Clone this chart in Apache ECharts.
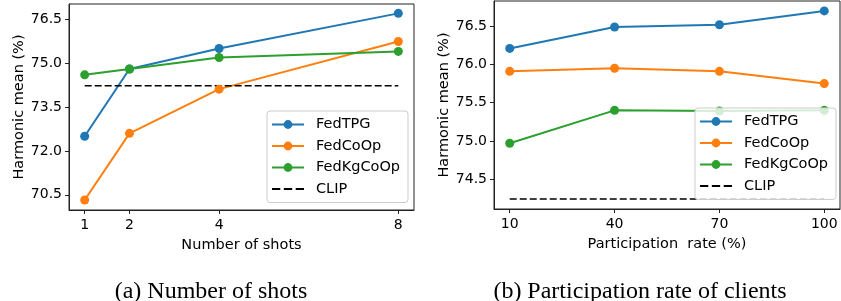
<!DOCTYPE html>
<html>
<head>
<meta charset="utf-8">
<script src="https://cdn.jsdelivr.net/npm/echarts@6/dist/echarts.min.js"></script>
<style>
  html, body { margin: 0; padding: 0; background: #fff; }
  #chart { width: 841px; height: 301px; }
</style>
</head>
<body>
<div id="chart"></div>
<script>
// (a) number of shots
var shots = [1, 2, 4, 8]
var shotsTPG = [72.5, 74.8, 75.5, 76.7]
var shotsCoOp = [70.32, 72.6, 74.11, 75.74]
var shotsKgCoOp = [74.6, 74.8, 75.19, 75.4]
var shotsClip = 74.23
var shotsYTicks = [70.5, 72.0, 73.5, 75.0, 76.5]

// (b) participation rate of clients
var rates = [10, 40, 70, 100]
var ratesTPG = [76.21, 76.49, 76.52, 76.7]
var ratesCoOp = [75.91, 75.95, 75.91, 75.75]
var ratesKgCoOp = [74.97, 75.4, 75.39, 75.4]
var ratesClip = 74.24
var ratesYTicks = [74.5, 75.0, 75.5, 76.0, 76.5]

var names = ['FedTPG', 'FedCoOp', 'FedKgCoOp', 'CLIP']
var colors = ['#1f77b4', '#ff7f0e', '#2ca02c', '#000000']

var font = 'DejaVu Sans'
var tickSize = 14
var textSize = 14.5

function pairs(xs, ys) {
  return xs.map(function (x, i) { return [x, ys[i]] })
}

function xAxisFor(idx, ticks, min, max, title) {
  return {
    type: 'value',
    gridIndex: idx,
    min: min,
    max: max,
    name: title,
    nameLocation: 'middle',
    nameGap: 28,
    nameTextStyle: { fontFamily: font, fontSize: textSize, color: '#000', verticalAlign: 'top' },
    splitLine: { show: false },
    axisLine: { show: true, lineStyle: { color: '#222', width: 1 } },
    axisTick: { show: true, length: 4, customValues: ticks, lineStyle: { color: '#222' } },
    axisLabel: { customValues: ticks, margin: 8, fontFamily: font, fontSize: tickSize, color: '#000' }
  }
}

function yAxisFor(idx, ticks, min, max, gap) {
  return {
    type: 'value',
    gridIndex: idx,
    min: min,
    max: max,
    name: 'Harmonic mean (%)',
    nameLocation: 'middle',
    nameGap: gap,
    nameTextStyle: { fontFamily: font, fontSize: textSize, color: '#000' },
    splitLine: { show: false },
    axisLine: { show: true, lineStyle: { color: '#222', width: 1 } },
    axisTick: { show: true, length: 4, customValues: ticks, lineStyle: { color: '#222' } },
    axisLabel: {
      customValues: ticks,
      margin: 7,
      fontFamily: font,
      fontSize: tickSize,
      color: '#000',
      formatter: function (v) { return v.toFixed(1) }
    }
  }
}

function lineSeries(name, color, data, idx) {
  return {
    name: name,
    type: 'line',
    xAxisIndex: idx,
    yAxisIndex: idx,
    data: data,
    symbol: 'circle',
    symbolSize: 9,
    animation: false,
    lineStyle: { color: color, width: 2 },
    itemStyle: { color: color }
  }
}

function clipSeries(xs, v, idx) {
  return {
    name: 'CLIP',
    type: 'line',
    xAxisIndex: idx,
    yAxisIndex: idx,
    data: [[xs[0], v], [xs[xs.length - 1], v]],
    symbol: 'none',
    animation: false,
    lineStyle: { color: '#000', width: 1.5, type: [7, 3] },
    itemStyle: { color: '#000' }
  }
}

// dashed icon for the CLIP legend entry
var dashIcon = 'path://M0,0h7v1.6h-7z M10,0h7v1.6h-7z M20,0h7v1.6h-7z'

function legendFor(left, top) {
  return {
    orient: 'vertical',
    left: left,
    top: top,
    padding: [6, 8, 6, 4],
    itemWidth: 32,
    itemHeight: 11,
    itemGap: 6.5,
    backgroundColor: 'rgba(255,255,255,0.8)',
    borderColor: '#ccc',
    borderWidth: 1,
    borderRadius: 3,
    selectedMode: false,
    textStyle: { fontFamily: font, fontSize: textSize, color: '#000', padding: [0, 0, 0, 7] },
    data: [
      { name: 'FedTPG' },
      { name: 'FedCoOp' },
      { name: 'FedKgCoOp' },
      { name: 'CLIP', icon: dashIcon }
    ]
  }
}

var chart = echarts.init(document.getElementById('chart'), null, { renderer: 'canvas' })

var option = {
  backgroundColor: '#fff',
  animation: false,
  grid: [
    { left: 69, top: 4, width: 345, height: 206, show: true, borderColor: '#222', borderWidth: 1 },
    { left: 494, top: 1, width: 346, height: 208, show: true, borderColor: '#222', borderWidth: 1 }
  ],
  xAxis: [
    xAxisFor(0, shots, 0.65, 8.35, 'Number of shots'),
    xAxisFor(1, rates, 5.5, 104.5, 'Participation  rate (%)')
  ],
  yAxis: [
    yAxisFor(0, shotsYTicks, 69.98, 77.02, 42),
    yAxisFor(1, ratesYTicks, 74.11, 76.83, 39)
  ],
  legend: [legendFor(267, 111), legendFor(695, 108)],
  series: [
    lineSeries(names[0], colors[0], pairs(shots, shotsTPG), 0),
    lineSeries(names[1], colors[1], pairs(shots, shotsCoOp), 0),
    lineSeries(names[2], colors[2], pairs(shots, shotsKgCoOp), 0),
    clipSeries(shots, shotsClip, 0),
    lineSeries(names[0], colors[0], pairs(rates, ratesTPG), 1),
    lineSeries(names[1], colors[1], pairs(rates, ratesCoOp), 1),
    lineSeries(names[2], colors[2], pairs(rates, ratesKgCoOp), 1),
    clipSeries(rates, ratesClip, 1)
  ],
  graphic: [
    {
      type: 'text',
      style: {
        text: '(a) Number of shots',
        x: 211,
        y: 292,
        align: 'center',
        verticalAlign: 'middle',
        fontFamily: 'Liberation Serif',
        fontSize: 24,
        fill: '#000'
      }
    },
    {
      type: 'text',
      style: {
        text: '(b) Participation rate of clients',
        x: 640,
        y: 292,
        align: 'center',
        verticalAlign: 'middle',
        fontFamily: 'Liberation Serif',
        fontSize: 24,
        fill: '#000'
      }
    }
  ]
}
option && chart.setOption(option)
</script>
</body>
</html>
